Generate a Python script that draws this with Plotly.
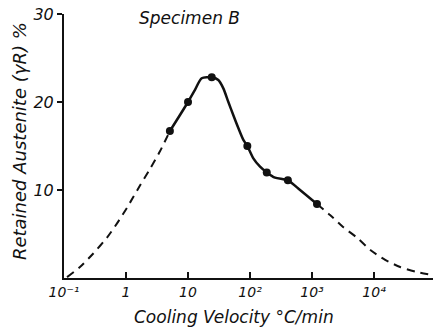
import plotly.graph_objects as go

# Read-off values (cooling velocity in °C/min, retained austenite in %)
dash_left_x = [0.112, 0.181, 0.294, 0.494, 0.716, 1.04, 1.68, 2.44, 3.53, 5.1]
dash_left_y = [0.1, 1.25, 2.75, 4.6, 6.2, 8.0, 10.5, 12.4, 14.4, 16.7]

solid_x = [5.1, 10, 13.0, 16.6, 24.1, 30.8, 37.1, 44.7, 53.8, 64.7, 78.0, 90.4, 113, 145, 186, 253, 407, 640, 1200]
solid_y = [16.7, 20.0, 21.4, 22.7, 22.8, 22.5, 21.55, 20.0, 18.5, 17.05, 15.7, 15.0, 13.6, 12.65, 12.0, 11.4, 11.1, 10.0, 8.4]

dash_right_x = [1200, 1950, 3160, 5370, 8710, 15100, 26300, 49000, 87100]
dash_right_y = [8.4, 7.16, 5.8, 4.55, 3.18, 2.05, 1.25, 0.68, 0.34]

meas_x = [5.1, 10, 24.1, 90.4, 186, 407, 1200]
meas_y = [16.7, 20.0, 22.8, 15.0, 12.0, 11.1, 8.4]

x_tickvals = [0.1, 1, 10, 100, 1000, 10000]
x_ticktext = ["10⁻¹", "1", "10", "10²", "10³", "10⁴"]
y_tickvals = [10, 20, 30]

FONT = "DejaVu Sans"
INK = "#111111"

fig = go.Figure()
fig.add_trace(go.Scatter(x=dash_left_x, y=dash_left_y, mode="lines",
                         line=dict(color=INK, width=2, dash="8px,6px", shape="spline", smoothing=0.6),
                         hoverinfo="skip", showlegend=False))
fig.add_trace(go.Scatter(x=solid_x, y=solid_y, mode="lines",
                         line=dict(color=INK, width=2.5, shape="spline", smoothing=0.7),
                         hoverinfo="skip", showlegend=False))
fig.add_trace(go.Scatter(x=dash_right_x, y=dash_right_y, mode="lines",
                         line=dict(color=INK, width=2, dash="8px,6px", shape="spline", smoothing=0.6),
                         hoverinfo="skip", showlegend=False))
fig.add_trace(go.Scatter(x=meas_x, y=meas_y, mode="markers",
                         marker=dict(color=INK, size=8),
                         showlegend=False))

fig.update_layout(
    width=435, height=328,
    margin=dict(l=64, r=2, t=14, b=50),
    paper_bgcolor="white", plot_bgcolor="white",
    font=dict(family=FONT, color=INK, size=14, style="italic"),
    xaxis=dict(type="log", range=[-1, 4.95], tickvals=x_tickvals, ticktext=x_ticktext,
               ticks="inside", ticklen=6, tickwidth=2, tickcolor=INK,
               showline=True, linewidth=2, linecolor=INK, showgrid=False, zeroline=False,
               tickfont=dict(family=FONT, size=14, style="italic")),
    yaxis=dict(range=[0, 30], tickvals=y_tickvals, ticks="outside", ticklen=5, tickwidth=2,
               tickcolor=INK, showline=True, linewidth=2, linecolor=INK, showgrid=False,
               zeroline=False, tickfont=dict(family=FONT, size=16, style="italic")),
    annotations=[
        dict(text="Specimen B", xref="paper", yref="paper", x=0.339, y=0.985,
             xanchor="center", yanchor="middle",
             showarrow=False, font=dict(family=FONT, size=17, style="italic")),
        dict(text="Retained Austenite (γR) %", xref="paper", yref="paper", x=-0.119, y=0.519,
             xanchor="center", yanchor="middle",
             textangle=-90, showarrow=False, font=dict(family=FONT, size=18, style="italic")),
        dict(text="Cooling Velocity °C/min", xref="paper", yref="paper", x=0.46, y=-0.148,
             xanchor="center", yanchor="middle",
             showarrow=False, font=dict(family=FONT, size=17, style="italic")),
    ],
)

fig.write_html("out.html", config={"displayModeBar": False},
               post_script="document.body.style.margin='0';document.body.style.padding='0';")
